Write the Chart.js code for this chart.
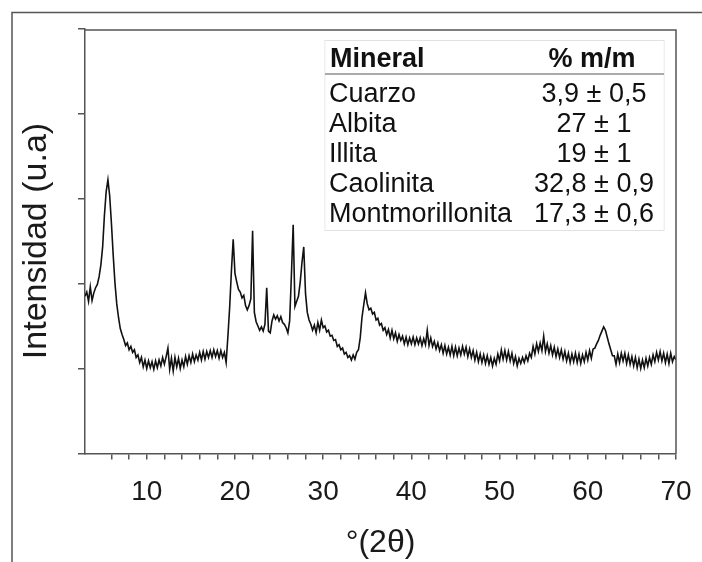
<!DOCTYPE html>
<html>
<head>
<meta charset="utf-8">
<script src="https://cdn.jsdelivr.net/npm/chart.js@4"></script>
<style>
  html, body { margin: 0; padding: 0; background: #fff; }
  #wrap { width: 702px; height: 562px; }
</style>
</head>
<body>
<div id="wrap"><canvas id="xrd"></canvas></div>
<script>
// patrón de difracción, 2θ de 3 a 70 en pasos de 0,2°
const thetaStart = 3;
const thetaStep = 0.2;
const intensity = [
  1.85, 1.90, 1.79, 1.96, 1.80, 1.89, 1.95, 1.99, 2.08, 2.22,
  2.43, 2.80, 3.08, 3.22, 3.03, 2.70, 2.33, 2.00, 1.76, 1.60,
  1.47, 1.40, 1.34, 1.27, 1.30, 1.22, 1.26, 1.19, 1.22, 1.13,
  1.16, 1.07, 1.13, 1.02, 1.10, 1.00, 1.09, 1.01, 1.08, 0.99,
  1.09, 1.01, 1.10, 1.03, 1.13, 1.05, 1.14, 1.24, 0.99, 1.12,
  0.97, 1.13, 1.02, 1.12, 1.00, 1.10, 1.02, 1.14, 1.05, 1.15,
  1.07, 1.17, 1.08, 1.16, 1.10, 1.19, 1.10, 1.20, 1.11, 1.20,
  1.13, 1.21, 1.13, 1.22, 1.14, 1.21, 1.12, 1.21, 1.13, 1.19,
  1.07, 1.38, 1.72, 2.15, 2.52, 2.12, 2.02, 1.93, 1.90, 1.83,
  1.86, 1.74, 1.69, 1.74, 1.82, 2.62, 1.66, 1.55, 1.50, 1.45,
  1.49, 1.44, 1.52, 1.95, 1.44, 1.42, 1.56, 1.63, 1.58, 1.62,
  1.56, 1.61, 1.54, 1.52, 1.48, 1.42, 1.56, 2.10, 2.69, 1.73,
  1.79, 1.85, 2.02, 2.25, 2.43, 1.88, 1.66, 1.57, 1.52, 1.45,
  1.51, 1.42, 1.54, 1.45, 1.57, 1.48, 1.50, 1.43, 1.45, 1.38,
  1.39, 1.33, 1.34, 1.26, 1.28, 1.22, 1.24, 1.17, 1.19, 1.13,
  1.15, 1.10, 1.16, 1.11, 1.19, 1.22, 1.36, 1.60, 1.75, 1.89,
  1.76, 1.69, 1.71, 1.64, 1.66, 1.57, 1.59, 1.51, 1.53, 1.45,
  1.48, 1.40, 1.46, 1.36, 1.45, 1.35, 1.42, 1.32, 1.40, 1.33,
  1.38, 1.29, 1.37, 1.28, 1.36, 1.29, 1.37, 1.28, 1.36, 1.29,
  1.36, 1.27, 1.35, 1.28, 1.45, 1.27, 1.36, 1.26, 1.32, 1.23,
  1.30, 1.21, 1.28, 1.18, 1.27, 1.17, 1.25, 1.16, 1.26, 1.15,
  1.25, 1.15, 1.24, 1.16, 1.26, 1.17, 1.25, 1.14, 1.23, 1.13,
  1.21, 1.10, 1.19, 1.08, 1.17, 1.07, 1.16, 1.06, 1.15, 1.05,
  1.13, 1.03, 1.12, 1.05, 1.17, 1.09, 1.22, 1.11, 1.21, 1.10,
  1.20, 1.09, 1.18, 1.06, 1.14, 1.03, 1.12, 1.06, 1.13, 1.07,
  1.15, 1.09, 1.18, 1.13, 1.26, 1.17, 1.29, 1.20, 1.30, 1.21,
  1.38, 1.20, 1.29, 1.18, 1.27, 1.16, 1.25, 1.14, 1.23, 1.13,
  1.22, 1.11, 1.20, 1.09, 1.18, 1.07, 1.17, 1.08, 1.18, 1.07,
  1.17, 1.06, 1.16, 1.08, 1.19, 1.10, 1.21, 1.12, 1.23, 1.24,
  1.29, 1.33, 1.39, 1.44, 1.49, 1.45, 1.37, 1.29, 1.22, 1.15,
  1.15, 1.05, 1.17, 1.07, 1.18, 1.09, 1.18, 1.06, 1.16, 1.05,
  1.14, 1.03, 1.13, 1.01, 1.11, 1.00, 1.10, 1.01, 1.12, 1.03,
  1.13, 1.05, 1.16, 1.08, 1.19, 1.10, 1.20, 1.09, 1.18, 1.07,
  1.17, 1.06, 1.18, 1.08, 1.14, 1.10
];
const xLabelTicks = [10, 20, 30, 40, 50, 60, 70];

// tabla de composición
const minerals = ['Cuarzo', 'Albita', 'Illita', 'Caolinita', 'Montmorillonita'];
const percentages = ['3,9 ± 0,5', '27 ± 1', '19 ± 1', '32,8 ± 0,9', '17,3 ± 0,6'];

const twoTheta = intensity.map((_, i) => +(thetaStart + i * thetaStep).toFixed(1));
const FONT = "'Liberation Sans', Arial, sans-serif";

// marco exterior, caja del gráfico y tabla
const decorPlugin = {
  id: 'decor',
  beforeDraw(chart) {
    const ctx = chart.ctx;
    ctx.save();
    ctx.strokeStyle = '#555';
    ctx.lineWidth = 1.5;
    ctx.strokeRect(12, 12.5, 720, 580);
    ctx.restore();
  },
  afterDraw(chart) {
    const ctx = chart.ctx;
    const a = chart.chartArea;
    ctx.save();
    ctx.strokeStyle = '#555';
    ctx.lineWidth = 1.5;
    ctx.beginPath();
    ctx.moveTo(a.left, a.top + 1.5);
    ctx.lineTo(a.right, a.top + 1.5);
    ctx.lineTo(a.right, a.bottom);
    ctx.stroke();

    // tabla
    const left = 325, right = 664;
    ctx.strokeStyle = '#e2e2e2';
    ctx.lineWidth = 1;
    ctx.strokeRect(left, 40.5, right - left, 190);
    ctx.fillStyle = '#fff';
    ctx.fillRect(left + 0.5, 41, right - left - 1, 189);
    ctx.strokeStyle = '#aaa';
    ctx.lineWidth = 2;
    ctx.beginPath();
    ctx.moveTo(left, 74);
    ctx.lineTo(right, 74);
    ctx.stroke();

    ctx.fillStyle = '#111';
    ctx.textBaseline = 'middle';
    ctx.font = 'bold 27px ' + FONT;
    ctx.textAlign = 'left';
    ctx.fillText('Mineral', 330, 60);
    ctx.textAlign = 'center';
    ctx.fillText('% m/m', 592, 60);
    ctx.font = '27px ' + FONT;
    minerals.forEach((m, i) => {
      const y = 95 + i * 30;
      ctx.textAlign = 'left';
      ctx.fillText(m, 329, y);
      ctx.textAlign = 'center';
      ctx.fillText(percentages[i], 594, y);
    });
    ctx.restore();
  }
};

new Chart(document.getElementById('xrd'), {
  type: 'line',
  data: {
    datasets: [{
      data: intensity.map((v, i) => ({ x: twoTheta[i], y: v })),
      borderColor: '#111',
      borderWidth: 1.6,
      pointRadius: 0,
      tension: 0,
      fill: false
    }]
  },
  options: {
    responsive: true,
    maintainAspectRatio: false,
    animation: false,
    layout: { padding: { top: 28.5, right: 26, left: 0, bottom: 0 } },
    plugins: {
      legend: { display: false },
      tooltip: { enabled: false }
    },
    scales: {
      x: {
        type: 'linear',
        min: 3,
        max: 70,
        afterBuildTicks: (scale) => {
          scale.ticks = scale.ticks.filter(t => t.value % 2 === 0);
        },
        afterFit: (scale) => {
          scale.height = 108.5;
          scale.paddingLeft = 0;
          scale.paddingRight = 0;
        },
        ticks: {
          stepSize: 2,
          autoSkip: false,
          maxRotation: 0,
          color: '#1a1a1a',
          padding: 16,
          font: { family: FONT, size: 28 },
          callback: (v) => xLabelTicks.includes(v) ? String(v) : ''
        },
        grid: {
          drawOnChartArea: false,
          drawTicks: true,
          tickLength: 6,
          color: '#555',
          lineWidth: 1.5
        },
        border: { display: true, color: '#555', width: 1.5 },
        title: {
          display: true,
          text: '°(2θ)',
          color: '#1a1a1a',
          font: { family: FONT, size: 32 },
          padding: { top: 0, bottom: 0 }
        }
      },
      y: {
        min: 0,
        max: 5,
        afterFit: (scale) => { scale.width = 85; },
        ticks: {
          stepSize: 1,
          callback: () => ''
        },
        grid: {
          drawOnChartArea: false,
          drawTicks: true,
          tickLength: 7,
          color: '#555',
          lineWidth: 1.5
        },
        border: { display: true, color: '#555', width: 1.5 },
        title: {
          display: true,
          text: 'Intensidad (u.a)',
          color: '#1a1a1a',
          font: { family: FONT, size: 34 },
          padding: { top: 16, bottom: 0 }
        }
      }
    }
  },
  plugins: [decorPlugin]
});
</script>
</body>
</html>
